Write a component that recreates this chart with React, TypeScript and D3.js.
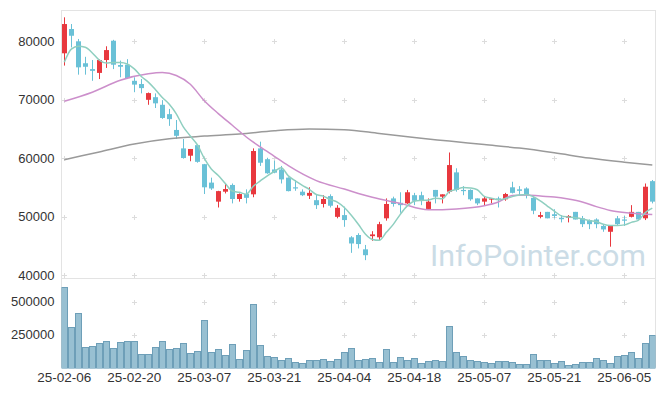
import React, { useRef, useEffect } from 'react';
import * as d3 from 'd3';

// trading days, 2025-02-06 .. 2025-06-12
const DATES = [
  '25-02-06', '25-02-07', '25-02-10', '25-02-11', '25-02-12', '25-02-13', '25-02-14', '25-02-17', '25-02-18', '25-02-19',
  '25-02-20', '25-02-21', '25-02-24', '25-02-25', '25-02-26', '25-02-27', '25-02-28', '25-03-04', '25-03-05', '25-03-06',
  '25-03-07', '25-03-10', '25-03-11', '25-03-12', '25-03-13', '25-03-14', '25-03-17', '25-03-18', '25-03-19', '25-03-20',
  '25-03-21', '25-03-24', '25-03-25', '25-03-26', '25-03-27', '25-03-28', '25-03-31', '25-04-01', '25-04-02', '25-04-03',
  '25-04-04', '25-04-07', '25-04-08', '25-04-09', '25-04-10', '25-04-11', '25-04-14', '25-04-15', '25-04-16', '25-04-17',
  '25-04-18', '25-04-21', '25-04-22', '25-04-23', '25-04-24', '25-04-25', '25-04-28', '25-04-29', '25-04-30', '25-05-02',
  '25-05-07', '25-05-08', '25-05-09', '25-05-12', '25-05-13', '25-05-14', '25-05-15', '25-05-16', '25-05-19', '25-05-20',
  '25-05-21', '25-05-22', '25-05-23', '25-05-26', '25-05-27', '25-05-28', '25-05-29', '25-05-30', '25-06-02', '25-06-04',
  '25-06-05', '25-06-09', '25-06-10', '25-06-11', '25-06-12',
];

const OPEN = [
  77900, 82050, 79950, 76200, 75200, 74550, 76750, 80050, 75900, 75950,
  73200, 72650, 69950, 70400, 69100, 67500, 64800, 61650, 60400, 62200,
  58950, 55800, 52550, 54250, 55400, 53000, 53850, 53800, 61650, 59800,
  58050, 58050, 56650, 55000, 54250, 53550, 52800, 52150, 53500, 49950,
  50250, 46450, 46850, 44400, 46650, 46450, 49700, 53100, 52350, 52250,
  53650, 53650, 51300, 54550, 53400, 54250, 57550, 54550, 54550, 53100,
  52550, 52950, 53100, 52950, 55000, 54650, 54800, 53200, 49950, 50800,
  50400, 49800, 49800, 50800, 49700, 49400, 49500, 48400, 47400, 49700,
  49500, 49950, 50800, 49700, 56050,
];
const HIGH = [
  84050, 82900, 80350, 77300, 76750, 76850, 79100, 80200, 76650, 76900,
  73800, 73500, 71200, 71050, 69900, 68400, 66500, 63250, 61550, 62250,
  59000, 56650, 54400, 55650, 55650, 53950, 54650, 61650, 62800, 60050,
  59550, 58650, 56700, 56250, 54650, 55000, 53800, 53650, 53800, 51950,
  51700, 46650, 47150, 45150, 47500, 49100, 53100, 53400, 54150, 54550,
  54050, 54250, 53100, 54550, 53800, 60950, 58250, 55200, 54650, 53100,
  53400, 53100, 53400, 54050, 55950, 55200, 55000, 53400, 50800, 50800,
  51250, 50250, 50250, 50800, 50100, 49500, 49700, 48700, 48400, 50100,
  50100, 51950, 50800, 55650, 56250,
];
const LOW = [
  75800, 78900, 74250, 74250, 73200, 73500, 75400, 75200, 73800, 73500,
  71250, 71050, 69100, 68550, 66700, 65500, 63250, 59900, 59450, 59200,
  53850, 54550, 51550, 53950, 52250, 52550, 52250, 53300, 58650, 57300,
  57400, 55650, 54300, 54400, 53500, 53000, 51300, 51550, 51550, 49700,
  48250, 43800, 44550, 42550, 45850, 46000, 49300, 51700, 50650, 52150,
  51950, 51950, 51300, 52250, 52250, 53950, 54250, 53650, 52700, 51950,
  51950, 52250, 51550, 52700, 53950, 53650, 53100, 50400, 49700, 49700,
  49700, 49000, 49000, 49500, 48200, 47850, 48000, 47400, 44850, 48400,
  48400, 49850, 49500, 49400, 52250,
];
const CLOSE = [
  82900, 80900, 75500, 75600, 74900, 76750, 78450, 75950, 75600, 73650,
  72550, 71950, 71100, 69350, 66850, 66650, 63800, 60000, 61550, 59350,
  55000, 54800, 54350, 54700, 53000, 53850, 53200, 61200, 59200, 57400,
  57500, 56350, 54350, 54800, 53650, 54050, 51950, 53000, 51850, 51500,
  49400, 45400, 45300, 43400, 46950, 48700, 52150, 52150, 51950, 54150,
  52700, 52800, 52550, 53400, 53800, 58800, 54550, 54350, 52950, 52250,
  53100, 53100, 52950, 53850, 54050, 54400, 53650, 51000, 50250, 49700,
  50100, 49550, 50100, 49500, 48700, 48700, 48700, 47800, 48400, 48700,
  49300, 50800, 49500, 55100, 52550,
];
const VOLUME = [
  615000, 305000, 418000, 155000, 163000, 185000, 200000, 148000, 193000, 200000,
  200000, 103000, 103000, 155000, 200000, 140000, 148000, 185000, 110000, 125000,
  365000, 118000, 140000, 95000, 178000, 65000, 133000, 485000, 170000, 88000,
  80000, 58000, 73000, 43000, 35000, 58000, 58000, 65000, 50000, 65000,
  118000, 148000, 58000, 65000, 73000, 43000, 140000, 43000, 80000, 58000,
  73000, 35000, 50000, 58000, 50000, 313000, 118000, 88000, 58000, 50000,
  43000, 35000, 50000, 50000, 43000, 28000, 28000, 103000, 58000, 58000,
  35000, 50000, 20000, 28000, 43000, 43000, 73000, 58000, 35000, 88000,
  95000, 118000, 73000, 185000, 245000,
];

// closes of the four sessions before the window (for the 5-day average)
const PREV_CLOSE = [69550, 73200, 76440, 79700];

// 20- and 60-day averages at these day indexes
const MA20_AT = [0, 4, 8, 12, 14, 16, 18, 20, 22, 24, 26, 28, 30, 32, 36, 40, 44, 48, 52, 56, 60, 62, 64, 66, 68, 70, 72, 74, 76, 78, 80, 82, 84];
const MA20 = [
  69700, 71250, 73300, 74400, 74600, 74100, 72600, 69800, 67600, 65600, 63600, 61900, 60300, 58700, 56150, 54700, 53300,
  52250, 51150, 51300, 51850, 52500, 53600, 53700, 53500, 53350, 53000, 52500, 51700, 51050, 50700, 50500, 50350,
];
const MA60_AT = [0, 5, 10, 15, 20, 25, 30, 35, 40, 45, 50, 55, 60, 65, 70, 75, 80, 84];
const MA60 = [
  59700, 61050, 62400, 63300, 63750, 64100, 64650, 64950, 64850, 64200, 63500, 62900, 62300, 61700, 60900, 60000, 59300, 58800,
];

const PRICE_TICKS = [40000, 50000, 60000, 70000, 80000];
const VOLUME_TICKS = [250000, 500000];
const DATE_TICKS = ['25-02-06', '25-02-20', '25-03-07', '25-03-21', '25-04-04', '25-04-18', '25-05-07', '25-05-21', '25-06-05'];

const UP = '#e8383e';
const DOWN = '#6ac1d7';

function App() {
  const ref = useRef<SVGSVGElement>(null);

  useEffect(() => {
    const svg = d3.select(ref.current);
    svg.selectAll('*').remove();

    const left = 61.5;
    const right = 655.5;
    const top = 10.5;
    const split = 278.5;
    const bottom = 367.5;

    const x = d3.scaleBand<string>().domain(DATES).range([60.8, 655.8]);
    const cx = (i: number) => (x(DATES[i]) as number) + x.bandwidth() / 2;
    const y = d3.scaleLinear().domain([39500, 85300]).range([278, 10]);
    const yv = d3.scaleLinear().domain([0, 682000]).range([367.5, 278]);

    const font = '"Liberation Sans", Arial, sans-serif';

    const defs = svg.append('defs');
    defs.append('clipPath').attr('id', 'price-clip')
      .append('rect').attr('x', left).attr('y', 10).attr('width', right - left).attr('height', split - 10);
    defs.append('clipPath').attr('id', 'vol-clip')
      .append('rect').attr('x', left).attr('y', split).attr('width', right - left).attr('height', bottom - split + 1);

    // frame
    const frame = svg.append('g').attr('stroke', '#e3e3e3').attr('stroke-width', 1);
    frame.append('line').attr('x1', left).attr('x2', right).attr('y1', top).attr('y2', top);
    frame.append('line').attr('x1', left).attr('x2', right).attr('y1', split).attr('y2', split);
    frame.append('line').attr('x1', left).attr('x2', left).attr('y1', 10).attr('y2', bottom);
    frame.append('line').attr('x1', right).attr('x2', right).attr('y1', 10).attr('y2', bottom);

    // grid crosses
    const crossX = DATE_TICKS.map(d => Math.floor(cx(DATES.indexOf(d))) + 0.5);
    const crossY = PRICE_TICKS.map(t => Math.round(y(t)) + 0.5).concat(VOLUME_TICKS.map(t => Math.round(yv(t)) + 0.5));
    const grid = svg.append('g').attr('stroke', '#dcdcdc').attr('stroke-width', 1);
    crossY.forEach(gy => {
      crossX.forEach(gx => {
        grid.append('line').attr('x1', gx - 2.5).attr('x2', gx + 2.5).attr('y1', gy).attr('y2', gy);
        grid.append('line').attr('x1', gx).attr('x2', gx).attr('y1', gy - 2.5).attr('y2', gy + 2.5);
      });
    });

    // watermark
    svg.append('text')
      .attr('x', 430)
      .attr('y', 266)
      .attr('textLength', 216)
      .attr('lengthAdjust', 'spacingAndGlyphs')
      .attr('fill', '#cbdce6')
      .style('font-family', 'Roboto, "Liberation Sans", sans-serif')
      .style('font-size', '30px')
      .text('InfoPointer.com');

    // y axis labels
    svg.append('g').selectAll('text')
      .data(PRICE_TICKS)
      .enter()
      .append('text')
      .attr('x', 54.5)
      .attr('y', d => y(d))
      .attr('dy', '0.35em')
      .attr('text-anchor', 'end')
      .attr('fill', '#333')
      .style('font-family', font)
      .style('font-size', '13px')
      .text(d => String(d));

    svg.append('g').selectAll('text')
      .data(VOLUME_TICKS)
      .enter()
      .append('text')
      .attr('x', 54.5)
      .attr('y', d => yv(d))
      .attr('dy', '0.35em')
      .attr('text-anchor', 'end')
      .attr('fill', '#333')
      .style('font-family', font)
      .style('font-size', '13px')
      .text(d => String(d));

    // x labels
    svg.append('g').selectAll('text')
      .data(DATE_TICKS)
      .enter()
      .append('text')
      .attr('x', d => cx(DATES.indexOf(d)))
      .attr('y', 382)
      .attr('text-anchor', 'middle')
      .attr('fill', '#333')
      .style('font-family', font)
      .style('font-size', '13.5px')
      .text(d => d);

    // volume
    svg.append('g').attr('clip-path', 'url(#vol-clip)')
      .selectAll('rect')
      .data(VOLUME)
      .enter()
      .append('rect')
      .attr('x', (d, i) => Math.round(x(DATES[i]) as number) + 0.5)
      .attr('y', d => Math.round(yv(d)) + 0.5)
      .attr('width', 6)
      .attr('height', d => Math.max(0, Math.round(yv(0)) - Math.round(yv(d))))
      .attr('fill', '#98c0d2')
      .attr('stroke', '#6e9fb8')
      .attr('stroke-width', 1);

    // candles
    const priceG = svg.append('g').attr('clip-path', 'url(#price-clip)');
    const candles = priceG.append('g');
    DATES.forEach((d, i) => {
      const up = CLOSE[i] >= OPEN[i];
      const col = up ? UP : DOWN;
      const px = Math.floor(cx(i));
      candles.append('line')
        .attr('x1', px + 0.5).attr('x2', px + 0.5)
        .attr('y1', y(HIGH[i])).attr('y2', y(LOW[i]))
        .attr('stroke', col).attr('stroke-width', 1);
      const yTop = y(Math.max(OPEN[i], CLOSE[i]));
      const yBot = y(Math.min(OPEN[i], CLOSE[i]));
      candles.append('rect')
        .attr('x', px - 2)
        .attr('y', yTop)
        .attr('width', 5)
        .attr('height', Math.max(1.2, yBot - yTop))
        .attr('fill', col);
    });

    // moving averages
    const allClose = PREV_CLOSE.concat(CLOSE);
    const ma5 = CLOSE.map((c, i) => d3.mean(allClose.slice(i, i + 5)) as number);

    const line = d3.line<[number, number]>()
      .x(d => cx(d[0]))
      .y(d => y(d[1]))
      .curve(d3.curveMonotoneX);

    priceG.append('path')
      .attr('d', line(MA60_AT.map((k, j) => [k, MA60[j]] as [number, number])))
      .attr('fill', 'none').attr('stroke', '#9a9a9a').attr('stroke-width', 1.5);
    priceG.append('path')
      .attr('d', line(MA20_AT.map((k, j) => [k, MA20[j]] as [number, number])))
      .attr('fill', 'none').attr('stroke', '#cc8fcb').attr('stroke-width', 1.5);
    priceG.append('path')
      .attr('d', line(ma5.map((v, i) => [i, v] as [number, number])))
      .attr('fill', 'none').attr('stroke', '#8fcfc0').attr('stroke-width', 1.5);
  }, []);

  return (
    <svg
      ref={ref}
      width={665}
      height={396}
      style={{ position: 'absolute', left: 0, top: 0, background: '#fff' }}
    />
  );
}

export default App;
